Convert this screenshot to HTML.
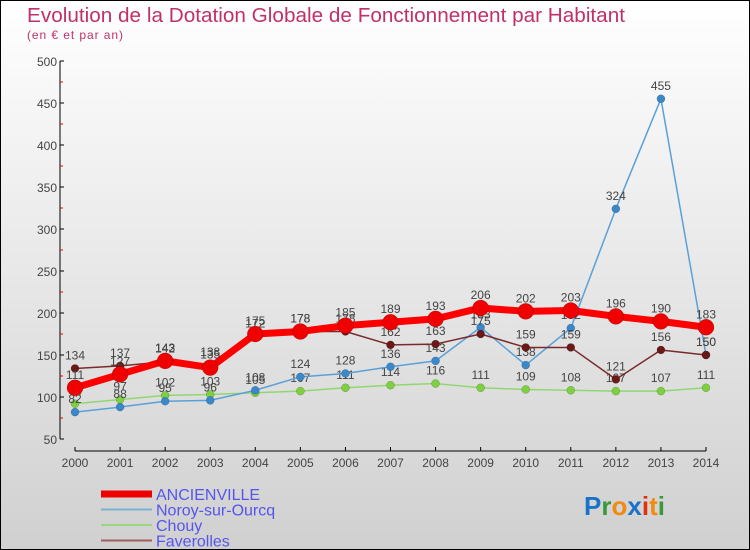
<!DOCTYPE html>
<html><head><meta charset="utf-8"><style>
body{margin:0}
#c{position:relative;width:748px;height:548px;border:1px solid #000;background:linear-gradient(#ffffff,#d0d0d0);font-family:"Liberation Sans","DejaVu Sans",sans-serif;overflow:hidden}
</style></head><body>
<div id="c">
<svg id="s" width="748" height="548" xmlns="http://www.w3.org/2000/svg">
<text x="26" y="21" font-size="20" fill="#c0306a" textLength="598" lengthAdjust="spacingAndGlyphs">Evolution de la Dotation Globale de Fonctionnement par Habitant</text>
<text x="26" y="38" font-size="12" fill="#c0306a" textLength="96">(en € et par an)</text>
<g id="axes"></g><g id="series"></g><g id="legend"></g>
<text x="583" y="514" font-size="26" font-weight="bold"><tspan fill="#1a73c8">P</tspan><tspan fill="#3a9a3a">r</tspan><tspan fill="#f08a10">o</tspan><tspan fill="#1a73c8">x</tspan><tspan fill="#e03010">i</tspan><tspan fill="#f08a10">t</tspan><tspan fill="#3a9a3a">i</tspan></text>
</svg></div>
<script>
const years=[2000,2001,2002,2003,2004,2005,2006,2007,2008,2009,2010,2011,2012,2013,2014];
const ancienville=[111,127,143,135,175,178,185,189,193,206,202,203,196,190,183];
const noroy=[82,88,95,96,108,124,128,136,143,183,138,182,324,455,150];
const chouy=[92,97,102,103,105,107,111,114,116,111,109,108,107,107,111];
const faverolles=[134,137,142,138,172,178,178,162,163,175,159,159,121,156,150];
const yTicks=[50,100,150,200,250,300,350,400,450,500];
const NS="http://www.w3.org/2000/svg";
const X=i=>74+i*(631/14);
const Y=v=>438-(v-50)*(378/450);
function mk(t,a,p){const e=document.createElementNS(NS,t);for(const k in a)e.setAttribute(k,a[k]);p.appendChild(e);return e;}
const ax=document.getElementById('axes');
let l=mk('line',{x1:59,y1:Y(500),x2:59,y2:Y(50),stroke:'#000'},ax);


yTicks.forEach(v=>{
 let t=mk('line',{x1:59,y1:Y(v),x2:63,y2:Y(v),stroke:'#000'},ax);
 
 
 if(v<500){let m=mk('line',{x1:59,y1:Y(v+25),x2:62,y2:Y(v+25),stroke:'#e00'},ax);
 
 }
 let tx=mk('text',{x:56,y:Y(v)+5,'text-anchor':'end','font-size':12,fill:'#444'},ax);tx.textContent=v;
 
 
});
l=mk('line',{x1:X(0),y1:450,x2:X(14),y2:450,stroke:'#000'},ax);


years.forEach((y,i)=>{
 let t=mk('line',{x1:X(i),y1:446,x2:X(i),y2:450,stroke:'#000'},ax);
 
 
 let tx=mk('text',{x:X(i),y:466,'text-anchor':'middle','font-size':12,fill:'#444'},ax);tx.textContent=y;
 
 
});
const sg=document.getElementById('series');
function series(d,name,col,w,r,lab){
 const g=mk('g',{},sg);
 
 
 const pl=mk('polyline',{points:d.map((v,i)=>X(i)+','+Y(v)).join(' '),fill:'none',stroke:col,'stroke-width':w,'stroke-linejoin':'round'},g);
 
 
 d.forEach((v,i)=>{
  const c=mk('circle',{cx:X(i),cy:Y(v),r:r,fill:lab,stroke:'rgba(0,0,0,0.3)','stroke-width':0.5},g);
  
  
  const t=mk('text',{x:X(i),y:Y(v)-9,'text-anchor':'middle','font-size':12,fill:'#444'},g);t.textContent=v;
  
  
 });
}
series(chouy,'chouy','#8fd870',1.5,4,'#7ed040');
series(noroy,'noroy','#5aa0d8',1.5,4,'#3a88cc');
series(faverolles,'faverolles','#7a2a2a',1.5,4,'#6a1818');
series(ancienville,'ancienville','#ff0000',7,8,'#f00000');
const lg=document.getElementById('legend');
[['ANCIENVILLE','#ee0000',7],['Noroy-sur-Ourcq','#7ab0d0',2],['Chouy','#98d880',2],['Faverolles','#a06060',2]].forEach((e,i)=>{
 const y=493+i*15.5;
 const ln=mk('line',{x1:100,y1:y,x2:151,y2:y,stroke:e[1],'stroke-width':e[2]},lg);
 
 
 const t=mk('text',{x:155,y:y+6,'font-size':16,fill:'#5555ee'},lg);t.textContent=e[0];
 
 
});
</script>
</body></html>
